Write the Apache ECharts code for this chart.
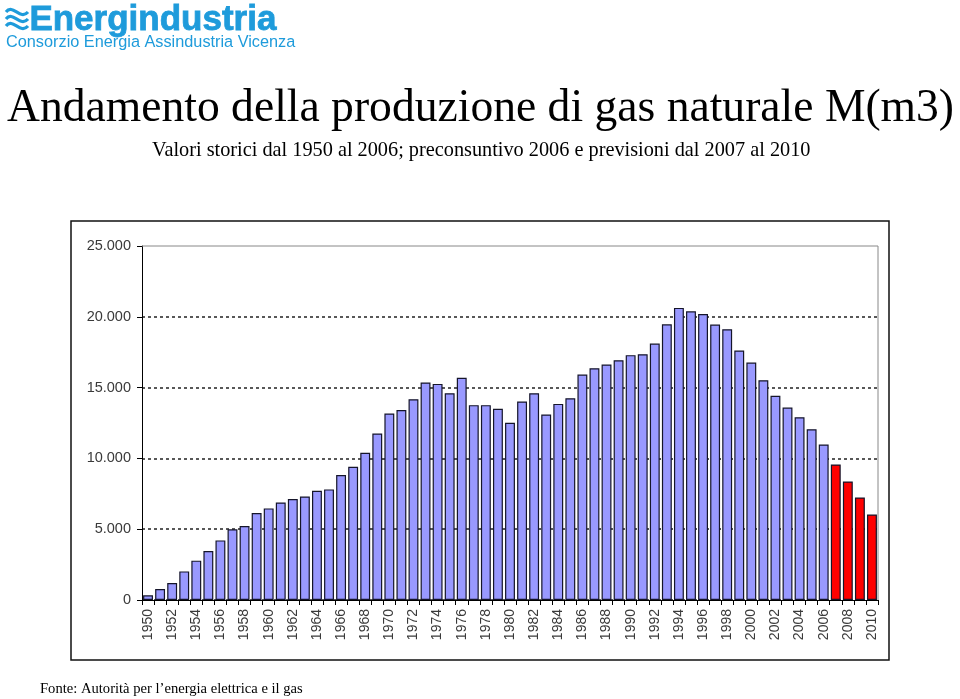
<!DOCTYPE html>
<html>
<head>
<meta charset="utf-8">
<style>
html,body{margin:0;padding:0;background:#fff;}
#chart{width:960px;height:699px;}
</style>
<script src="https://cdn.jsdelivr.net/npm/echarts@6/dist/echarts.min.js"></script>
</head>
<body>
<div id="chart"></div>
<script>
const years = [];
for (let y = 1950; y <= 2010; y++) years.push(String(y));

const historicValues = [
  330, 780, 1200, 2020, 2780, 3460, 4210, 4990, 5220, 6140,
  6470, 6890, 7130, 7310, 7710, 7810, 8820, 9410, 10400, 11760,
  13170, 13410, 14180, 15360, 15260, 14600, 15690, 13760, 13760, 13500,
  12510, 14020, 14600, 13100, 13850, 14250, 15920, 16370, 16630, 16930,
  17290, 17360, 18110, 19470, 20630, 20390, 20200, 19450, 19120, 17620,
  16770, 15520, 14420, 13590, 12910, 12060, 10980
];
const forecastValues = [9570, 8370, 7240, 6040];

const yTicks = [0, 5000, 10000, 15000, 20000, 25000];

const titleText = 'Andamento della produzione di gas naturale M(m3)';
const subtitleText = 'Valori storici dal 1950 al 2006; preconsuntivo 2006 e previsioni dal 2007 al 2010';
const sourceText = 'Fonte: Autorità per l\u2019energia elettrica e il gas';

const barData = years.map((y, i) => {
  if (i < historicValues.length) {
    return { value: historicValues[i], itemStyle: { color: '#9999FF' } };
  }
  return { value: forecastValues[i - historicValues.length], itemStyle: { color: '#FF0000' } };
});

function fmt(v) {
  return String(v).replace(/\B(?=(\d{3})+(?!\d))/g, '.');
}

function wave(y) {
  return { type: 'bezierCurve',
    shape: { x1: 6, y1: y, cpx1: 13, cpy1: y - 9, cpx2: 20, cpy2: y + 9, x2: 28, y2: y },
    style: { stroke: '#1E9BDB', lineWidth: 3.2, fill: 'none' } };
}

const gridColors = yTicks.map(t => (t === 25000 ? 'rgba(0,0,0,0)' : '#222'));

const chart = echarts.init(document.getElementById('chart'), null, { renderer: 'canvas' });
chart.setOption({
  backgroundColor: '#ffffff',
  animation: false,
  grid: { left: 142, right: 82, top: 246, bottom: 99, show: false },
  xAxis: {
    type: 'category',
    data: years,
    boundaryGap: true,
    axisLine: { show: true, lineStyle: { color: '#000', width: 1 } },
    axisTick: { show: true, interval: 0, length: 5, lineStyle: { color: '#000' } },
    axisLabel: {
      interval: 1,
      rotate: 90,
      fontFamily: 'Liberation Sans, Arial, sans-serif',
      fontSize: 14,
      color: '#3a3a3a',
      margin: 9
    },
    splitLine: { show: false }
  },
  yAxis: {
    type: 'value',
    min: 0,
    max: 25000,
    interval: 5000,
    axisLine: { show: true, lineStyle: { color: '#000', width: 1 } },
    axisTick: { show: true, length: 5, lineStyle: { color: '#000' } },
    axisLabel: {
      formatter: v => fmt(v),
      fontFamily: 'Liberation Sans, Arial, sans-serif',
      fontSize: 14.5,
      color: '#3a3a3a',
      margin: 11
    },
    splitLine: {
      show: true,
      lineStyle: { color: gridColors, type: [3, 3], width: 1.5 }
    }
  },
  series: [{
    type: 'bar',
    data: barData,
    barCategoryGap: '18%',
    itemStyle: { borderColor: '#15152a', borderWidth: 1.2 },
    z: 3
  }],
  graphic: [
    { type: 'rect', shape: { x: 71, y: 221, width: 818, height: 439 },
      style: { fill: 'none', stroke: '#111', lineWidth: 1.5 }, z: 0 },
    { type: 'polyline', shape: { points: [[142, 246], [878, 246], [878, 600]] },
      style: { stroke: '#888', lineWidth: 1, fill: 'none' }, z: 1 },
    wave(12), wave(19), wave(26),
    { type: 'text', left: 29, top: 2,
      style: { text: 'Energindustria', fill: '#1E9BDB', font: 'bold 35px "Liberation Sans", Arial, sans-serif',
               stroke: '#1E9BDB', lineWidth: 0.8 } },
    { type: 'text', left: 6, top: 35,
      style: { text: 'Consorzio Energia Assindustria Vicenza', fill: '#1E9BDB', font: '16.3px "Liberation Sans", Arial, sans-serif' } },
    { type: 'text', left: 7, top: 86,
      style: { text: titleText, fill: '#000', font: '45.6px "Liberation Serif", "Times New Roman", serif' } },
    { type: 'text', left: 152, top: 141,
      style: { text: subtitleText, fill: '#000', font: '20.3px "Liberation Serif", "Times New Roman", serif' } },
    { type: 'text', left: 40, top: 682,
      style: { text: sourceText, fill: '#000', font: '14.6px "Liberation Serif", "Times New Roman", serif' } }
  ]
});
</script>
</body>
</html>
